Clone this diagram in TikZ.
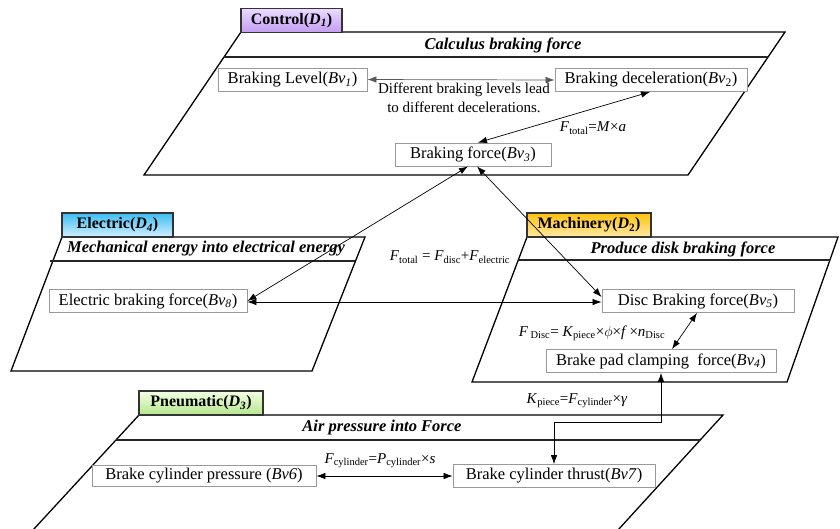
\documentclass[tikz,border=0pt]{standalone}
\usepackage{fontspec}
\setmainfont{Liberation Serif}
\usetikzlibrary{arrows.meta,calc}
\definecolor{purpT}{HTML}{EADCFF}
\definecolor{purpB}{HTML}{C39CF2}
\definecolor{blueT}{HTML}{3DBDF2}
\definecolor{blueB}{HTML}{D2F0FF}
\definecolor{orgT}{HTML}{FFC20E}
\definecolor{orgB}{HTML}{FFE9A6}
\definecolor{grnT}{HTML}{F2FFE4}
\definecolor{grnB}{HTML}{B6E68C}
\tikzset{
  panel/.style={draw=black, line width=1.3pt, line join=miter},
  sepline/.style={draw=black!85, line width=1.3pt},
  tab/.style={draw=black!80, line width=1.2pt, inner sep=0pt, minimum height=24pt,
    font=\fontsize{16}{18}\selectfont\bfseries},
  bv/.style={draw=black!40, line width=0.8pt, fill=white, inner sep=0pt,
    minimum height=23pt, font=\fontsize{16.5}{19}\selectfont},
  lbl/.style={font=\fontsize{15}{19}\selectfont, inner sep=0pt, align=center},
  ttl/.style={font=\fontsize{16.5}{19}\selectfont\bfseries\itshape, inner sep=0pt},
  con/.style={draw=black, line width=0.7pt,
    {Latex[length=9pt,width=6.5pt]}-{Latex[length=9pt,width=6.5pt]}},
  gcon/.style={con, draw=black!65},
}
\begin{document}
\begin{tikzpicture}[x=1pt,y=-1pt]
\useasboundingbox (0,0) rectangle (840,528);

% ---------------- Control panel (D1)
\draw[panel] (241,32) -- (785,32) -- (688,175) -- (144,175) -- cycle;
\draw[sepline] (224,57) -- (768,57);
\node[tab, top color=purpT, bottom color=purpB, minimum width=101pt] (tD1) at (291.5,20.5)
  {Control(\textit{D}\textsubscript{\textit{1}})};
\node[ttl] (ttl1) at (503,45) {Calculus braking force};
\node[bv, minimum width=149pt] (Bv1) at (292.5,79.5) {Braking Level(\textit{Bv}\textsubscript{\textit{1}})};
\node[bv, minimum width=192pt] (Bv2) at (651,80) {Braking deceleration(\textit{Bv}\textsubscript{2})};
\node[bv, minimum width=156pt] (Bv3) at (473,154.5) {Braking force(\textit{Bv}\textsubscript{\textit{3}})};
\draw[gcon] (Bv1.east) -- (Bv2.west);
\node[lbl] (l12) at (464,97.5) {Different braking levels lead\\to different decelerations.};
\draw[con] ($(Bv3.north)+(5,0)$) -- ($(Bv2.south)+(-1,0)$);
\node[lbl] (l23) at (593,128) {\textit{F}\textsubscript{total}=\textit{M}×\textit{a}};

% ---------------- Electric panel (D4)
\draw[panel] (62,237) -- (365,237) -- (312,371) -- (11,371) -- cycle;
\draw[sepline] (50,261) -- (355,261);
\node[tab, top color=blueT, bottom color=blueB, minimum width=111pt] (tD4) at (117.5,225)
  {Electric(\textit{D}\textsubscript{\textit{4}})};
\node[ttl] (ttl4) at (206,249) {Mechanical energy into electrical energy};
\node[bv, minimum width=198pt] (Bv8) at (148,301) {Electric braking force(\textit{Bv}\textsubscript{\textit{8}})};

% ---------------- Machinery panel (D2)
\draw[panel] (527,237) -- (838,237) -- (787,382) -- (472,382) -- cycle;
\draw[sepline] (519,260) -- (830,260);
\node[tab, top color=orgT, bottom color=orgB, minimum width=124pt] (tD2) at (589,225)
  {Machinery(\textit{D}\textsubscript{2})};
\node[ttl] (ttl2) at (683,249) {Produce disk braking force};
\node[bv, minimum width=192pt] (Bv5) at (698,301) {Disc Braking force(\textit{Bv}\textsubscript{\textit{5}})};
\node[bv, minimum width=230pt] (Bv4) at (661,361) {Brake pad clamping\ \ force(\textit{Bv}\textsubscript{\textit{4}})};
\draw[con] ($(Bv4.north)+(11,0)$) -- ($(Bv5.south)+(-1,0)$);
\node[lbl] (l45) at (592,333) {\textit{F}\,\textsubscript{Disc}= \textit{K}\textsubscript{piece}×$\phi$×\textit{f}\,×\textit{n}\textsubscript{Disc}};

% ---------------- Pneumatic panel (D3)
\draw[panel] (33,530) -- (139,415) -- (723,415) -- (618,530);
\draw[sepline] (116,440) -- (700,440);
\node[tab, top color=grnT, bottom color=grnB, minimum width=124pt] (tD3) at (201,403)
  {Pneumatic(\textit{D}\textsubscript{\textit{3}})};
\node[ttl] (ttl3) at (382,428) {Air pressure into Force};
\node[bv, minimum width=224pt, minimum height=21pt] (Bv6) at (204,476) {Brake cylinder pressure (\textit{Bv6})};
\node[bv, minimum width=202pt] (Bv7) at (554,476) {Brake cylinder thrust(\textit{Bv7})};
\draw[con] (Bv6.east) -- (Bv7.west);
\node[lbl] (l67) at (380,461) {\textit{F}\textsubscript{cylinder}=\textit{P}\textsubscript{cylinder}×\textit{s}};

% ---------------- Cross-panel connectors
\draw[con] ($(Bv3.south)+(-5,0)$) -- (Bv8.east);
\draw[con] ($(Bv3.south)+(4,0)$) -- ($(Bv5.west)+(0,-4)$);
\draw[con] ($(Bv8.east)+(0,1)$) -- ($(Bv5.west)+(0,1)$);
\node[lbl] (lT) at (450,257) {\textit{F}\textsubscript{total} = \textit{F}\textsubscript{disc}+\textit{F}\textsubscript{electric}};
\draw[con] (Bv4.south) -- ++(0,49) -| (Bv7.north);
\node[lbl] (l47) at (577,401) {\textit{K}\textsubscript{piece}=\textit{F}\textsubscript{cylinder}×\textit{γ}};
\end{tikzpicture}
\end{document}
